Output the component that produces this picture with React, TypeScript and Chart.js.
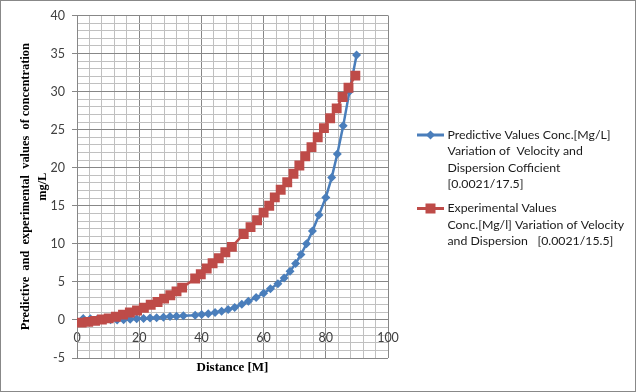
import React, { useEffect, useRef } from "react";
import { Chart, registerables } from "chart.js";

Chart.register(...registerables);

// Predictive values (blue) – distance [M] and concentration [mg/L]
const predictiveX = [2, 4.3, 6.5, 8.6, 10.8, 12.9, 15, 17.1, 19.2, 21.4, 23.5, 25.6, 27.8, 29.9, 32, 34.2, 38, 40.1, 42.2, 44.4, 46.5, 48.6, 50.7, 53, 55.1, 57.6, 60, 62.2, 64.6, 66.6, 68.5, 70.3, 72, 73.8, 75.7, 77.8, 80, 81.9, 83.7, 85.6, 87.6, 89.9];
const predictiveY = [0.2, 0.15, 0.1, 0.06, 0.03, 0.0, 0.03, 0.1, 0.15, 0.2, 0.25, 0.3, 0.37, 0.44, 0.5, 0.55, 0.62, 0.72, 0.82, 0.98, 1.15, 1.38, 1.65, 2.05, 2.45, 2.95, 3.5, 4.1, 4.75, 5.5, 6.4, 7.4, 8.6, 10.0, 11.7, 13.8, 16.1, 18.7, 21.8, 25.5, 30.0, 34.8];

// Experimental values (red)
const experimentalX = [1.5, 3.6, 5.8, 8, 10.2, 12.5, 14.8, 17, 19.3, 21.5, 23.7, 25.9, 28, 30, 32, 33.8, 38, 39.8, 41.7, 43.6, 45.6, 47.7, 49.8, 53.6, 55.8, 57.9, 60, 61.8, 63.6, 65.5, 67.6, 69.6, 71.5, 73.4, 75.4, 77.4, 79.4, 81.4, 83.5, 85.4, 87.3, 89.5];
const experimentalY = [-0.35, -0.25, -0.12, 0.05, 0.2, 0.42, 0.7, 0.98, 1.25, 1.6, 2.0, 2.35, 2.8, 3.25, 3.75, 4.25, 5.45, 6.0, 6.75, 7.45, 8.1, 8.9, 9.6, 11.3, 12.2, 13.1, 14.1, 15.0, 16.1, 17.1, 18.1, 19.2, 20.3, 21.5, 22.7, 24.0, 25.2, 26.5, 27.8, 29.3, 30.5, 32.1];

const predictiveLegend = ["Predictive Values Conc.[Mg/L]", "Variation of  Velocity and", "Dispersion Cofficient", "[0.0021/17.5]"];
const experimentalLegend = ["Experimental Values", "Conc.[Mg/l] Variation of Velocity", "and Dispersion   [0.0021/15.5]"];

const yTitle = ["Predictive  and  experimental  values  of concentration", "mg/L"];
const xTitle = "Distance [M]";

const BLUE = "#4A7EBB";
const RED = "#BE4B48";
const MAJOR = "#878787";
const MINOR = "#C0C0C0";
const TICK_FONT = "Lato";

const legendPlugin = {
  id: "customLegend",
  afterDraw(chart: any) {
    const ctx = chart.ctx;
    ctx.save();
    const drawEntry = (y0: number, lines: string[], color: string, style: string) => {
      ctx.strokeStyle = color;
      ctx.lineWidth = 3;
      ctx.beginPath();
      ctx.moveTo(416, y0);
      ctx.lineTo(443, y0);
      ctx.stroke();
      ctx.fillStyle = color;
      if (style === "diamond") {
        ctx.beginPath();
        ctx.moveTo(429.5 - 4.5, y0);
        ctx.lineTo(429.5, y0 - 4.5);
        ctx.lineTo(429.5 + 4.5, y0);
        ctx.lineTo(429.5, y0 + 4.5);
        ctx.closePath();
        ctx.fill();
      } else {
        ctx.fillRect(429.5 - 5, y0 - 5, 10, 10);
      }
      ctx.fillStyle = "#1a1a1a";
      ctx.font = `12.3px ${TICK_FONT}`;
      ctx.textBaseline = "middle";
      ctx.textAlign = "left";
      lines.forEach((l, i) => ctx.fillText(l, 446.5, y0 + i * 16.5));
    };
    drawEntry(134, predictiveLegend, BLUE, "diamond");
    drawEntry(207.5, experimentalLegend, RED, "rect");
    ctx.restore();
  },
};

export default function App() {
  const ref = useRef<HTMLCanvasElement | null>(null);
  useEffect(() => {
    document.body.style.margin = "0";
    if (!ref.current) return;
    const chart = new Chart(ref.current, {
      type: "line",
      data: {
        datasets: [
          {
            label: predictiveLegend.join(" "),
            data: predictiveX.map((x, i) => ({ x, y: predictiveY[i] })),
            borderColor: BLUE,
            backgroundColor: BLUE,
            borderWidth: 2.5,
            pointStyle: "rectRot",
            pointRadius: 4.5,
            pointBorderWidth: 0,
            tension: 0,
            order: 1,
            xAxisID: "x",
          },
          {
            label: experimentalLegend.join(" "),
            data: experimentalX.map((x, i) => ({ x, y: experimentalY[i] })),
            borderColor: RED,
            backgroundColor: RED,
            borderWidth: 2.5,
            pointStyle: "rect",
            pointRadius: 7,
            pointBorderWidth: 0,
            tension: 0,
            order: 0,
            xAxisID: "x",
          },
        ],
      },
      options: {
        animation: false,
        responsive: false,
        maintainAspectRatio: false,
        layout: { padding: { left: 0, top: 14, right: 247, bottom: 11.4 } },
        plugins: { legend: { display: false }, tooltip: { enabled: false } },
        scales: {
          x: {
            type: "linear",
            position: { y: 0 } as any,
            min: 0,
            max: 100,
            ticks: {
              stepSize: 4,
              autoSkip: false,
              maxRotation: 0,
              padding: 7,
              color: "#404040",
              font: { family: TICK_FONT, size: 12.5 },
              callback: (v: any) => (Number(v) % 20 === 0 ? String(v) : ""),
            },
            grid: {
              color: (c: any) => (c.tick && c.tick.value % 20 === 0 ? MAJOR : MINOR),
              tickColor: "transparent",
              tickLength: 4,
              lineWidth: 1,
            },
            border: { color: MAJOR, width: 1 },
          },
          x2: {
            type: "linear",
            position: "bottom",
            min: 0,
            max: 100,
            ticks: { display: false },
            grid: { display: false, drawTicks: false },
            border: { display: false },
            title: {
              display: true,
              text: xTitle,
              color: "#000",
              font: { family: "Liberation Serif", size: 13, weight: "bold", lineHeight: 1.2 },
              padding: { top: 2, bottom: 4 },
            },
          },
          y: {
            type: "linear",
            min: -5,
            max: 40,
            afterFit: (s: any) => {
              s.width = 76;
            },
            ticks: {
              stepSize: 1,
              autoSkip: false,
              padding: 7,
              color: "#404040",
              font: { family: TICK_FONT, size: 12.5 },
              callback: (v: any) => (Number(v) % 5 === 0 ? String(v) : ""),
            },
            grid: {
              color: (c: any) => (c.tick && c.tick.value % 5 === 0 ? MAJOR : MINOR),
              tickColor: (c: any) => (c.tick && c.tick.value % 5 === 0 ? MAJOR : "transparent"),
              tickLength: 5,
              lineWidth: 1,
            },
            border: { color: MAJOR, width: 1 },
            title: {
              display: true,
              text: yTitle,
              color: "#000",
              font: { family: "Liberation Serif", size: 12.4, weight: "bold", lineHeight: 17 / 12.4 },
              padding: { top: 16.5, bottom: 0 },
            },
          },
        },
      },
      plugins: [legendPlugin],
    });
    return () => chart.destroy();
  }, []);
  return (
    <div
      style={{
        width: 636,
        height: 392,
        border: "1px solid #888",
        boxSizing: "border-box",
        background: "#fff",
      }}
    >
      <canvas ref={ref} width={634} height={390} style={{ display: "block", width: 634, height: 390 }} />
    </div>
  );
}
